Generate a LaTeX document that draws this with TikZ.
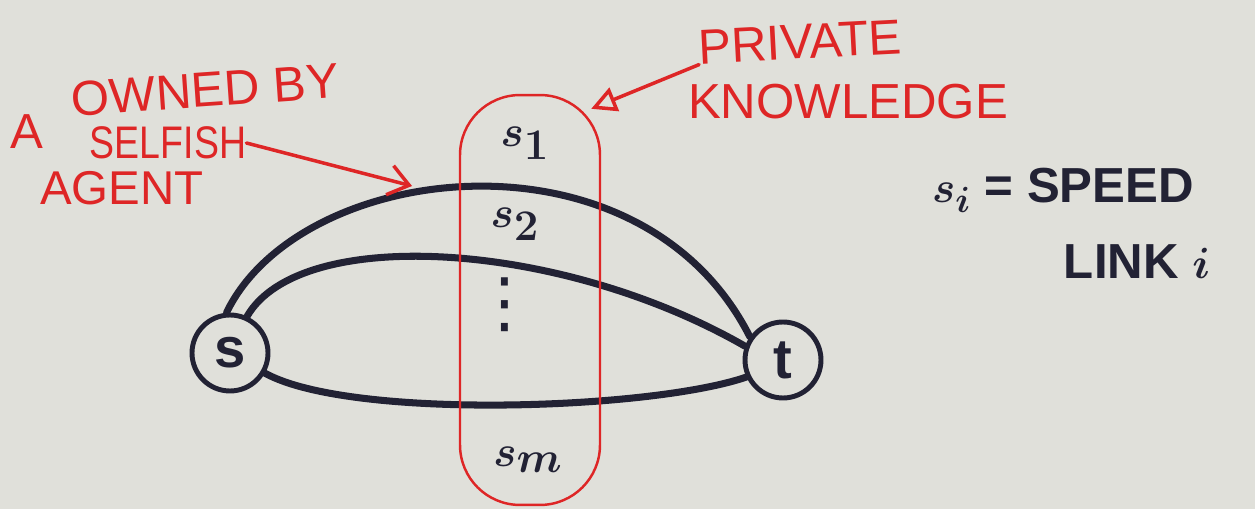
\documentclass[tikz,border=0pt]{standalone}
\usepackage{fontspec}
\setmainfont{Liberation Sans}
\newfontfamily\dotsfont{DejaVu Sans}
\usetikzlibrary{positioning, arrows.meta, shapes.geometric}
\definecolor{boardgray}{RGB}{224,224,218}
\definecolor{markerred}{RGB}{222,38,38}
\definecolor{markerblack}{RGB}{34,34,52}

\begin{document}
\begin{tikzpicture}[x=0.02cm, y=-0.02cm,
    vertex/.style={circle, draw=markerblack, line width=2.8pt, minimum size=1.52cm, inner sep=0pt, text=markerblack, font=\fontsize{32}{34}\selectfont\bfseries},
    linkline/.style={draw=markerblack, line width=4pt, line cap=round},
    speedname/.style={text=markerblack, inner sep=0pt, font=\fontsize{50}{52}\selectfont\boldmath},
    redtext/.style={text=markerred, inner sep=0pt, font=\fontsize{28}{30}\selectfont},
    blacktext/.style={text=markerblack, inner sep=0pt, font=\fontsize{28}{30}\selectfont\bfseries\boldmath},
    redarrow/.style={draw=markerred, line width=2pt, line cap=round}
]

% === BOARD ===
\fill[boardgray] (0,0) rectangle (1255,509);
\useasboundingbox (0,0) rectangle (1255,509);

% === NETWORK ===
\node[vertex] (s) at (230,353) {s};
\node[vertex] (t) at (783,360) {t};

% Parallel links
\draw[linkline] (s.95) .. controls (300,160) and (640,120) .. (t.145);
\draw[linkline] (s.65) .. controls (300,225) and (560,240) .. (t.160);
\draw[linkline] (s.-30) .. controls (350,420) and (650,410) .. (t.205);

% Link speeds
\node[speedname] (s1) at (525,143) {$s_1$};
\node[speedname] (s2) at (515,224) {$s_2$};
\node[text=markerblack, inner sep=0pt, font=\fontsize{38}{40}\dotsfont] (dots) at (505,305) {⋮};
\node[speedname] (sm) at (528,460) {$s_m$};

% Private knowledge
\node[draw=markerred, line width=1.4pt, rounded corners=1.2cm, minimum width=2.8cm, minimum height=8.2cm, inner sep=0pt] (priv) at (530,300) {};

% === ANNOTATIONS ===
\node[redtext, rotate=3] (private) at (800,42) {PRIVATE};
\node[redtext] (knowledge) at (848,102) {KNOWLEDGE};
\draw[redarrow, -{Triangle[open, length=5mm, width=5mm]}] (private.south west) -- ([shift={(-10,15)}]priv.north east);

\node[redtext] (agentA) at (27,132) {A};
\node[redtext, rotate=4] (owned) at (205,90) {OWNED BY};
\node[redtext, font=\fontsize{26}{28}\selectfont] (selfish) at (168,143) {\scalebox{0.82}[1]{SELFISH}};
\node[redtext, font=\fontsize{27}{30}\selectfont] (agent) at (122,188) {AGENT};
\coordinate (agentend) at (412,186);
\draw[redarrow, -{Straight Barb[length=4mm, width=6mm]}] (selfish.east) -- (agentend);

% Definition
\node[blacktext] (speed) at (1063,190) {$s_i$ = SPEED};
\node[blacktext] (linki) at (1137,262) {LINK $i$};

\end{tikzpicture}
\end{document}
